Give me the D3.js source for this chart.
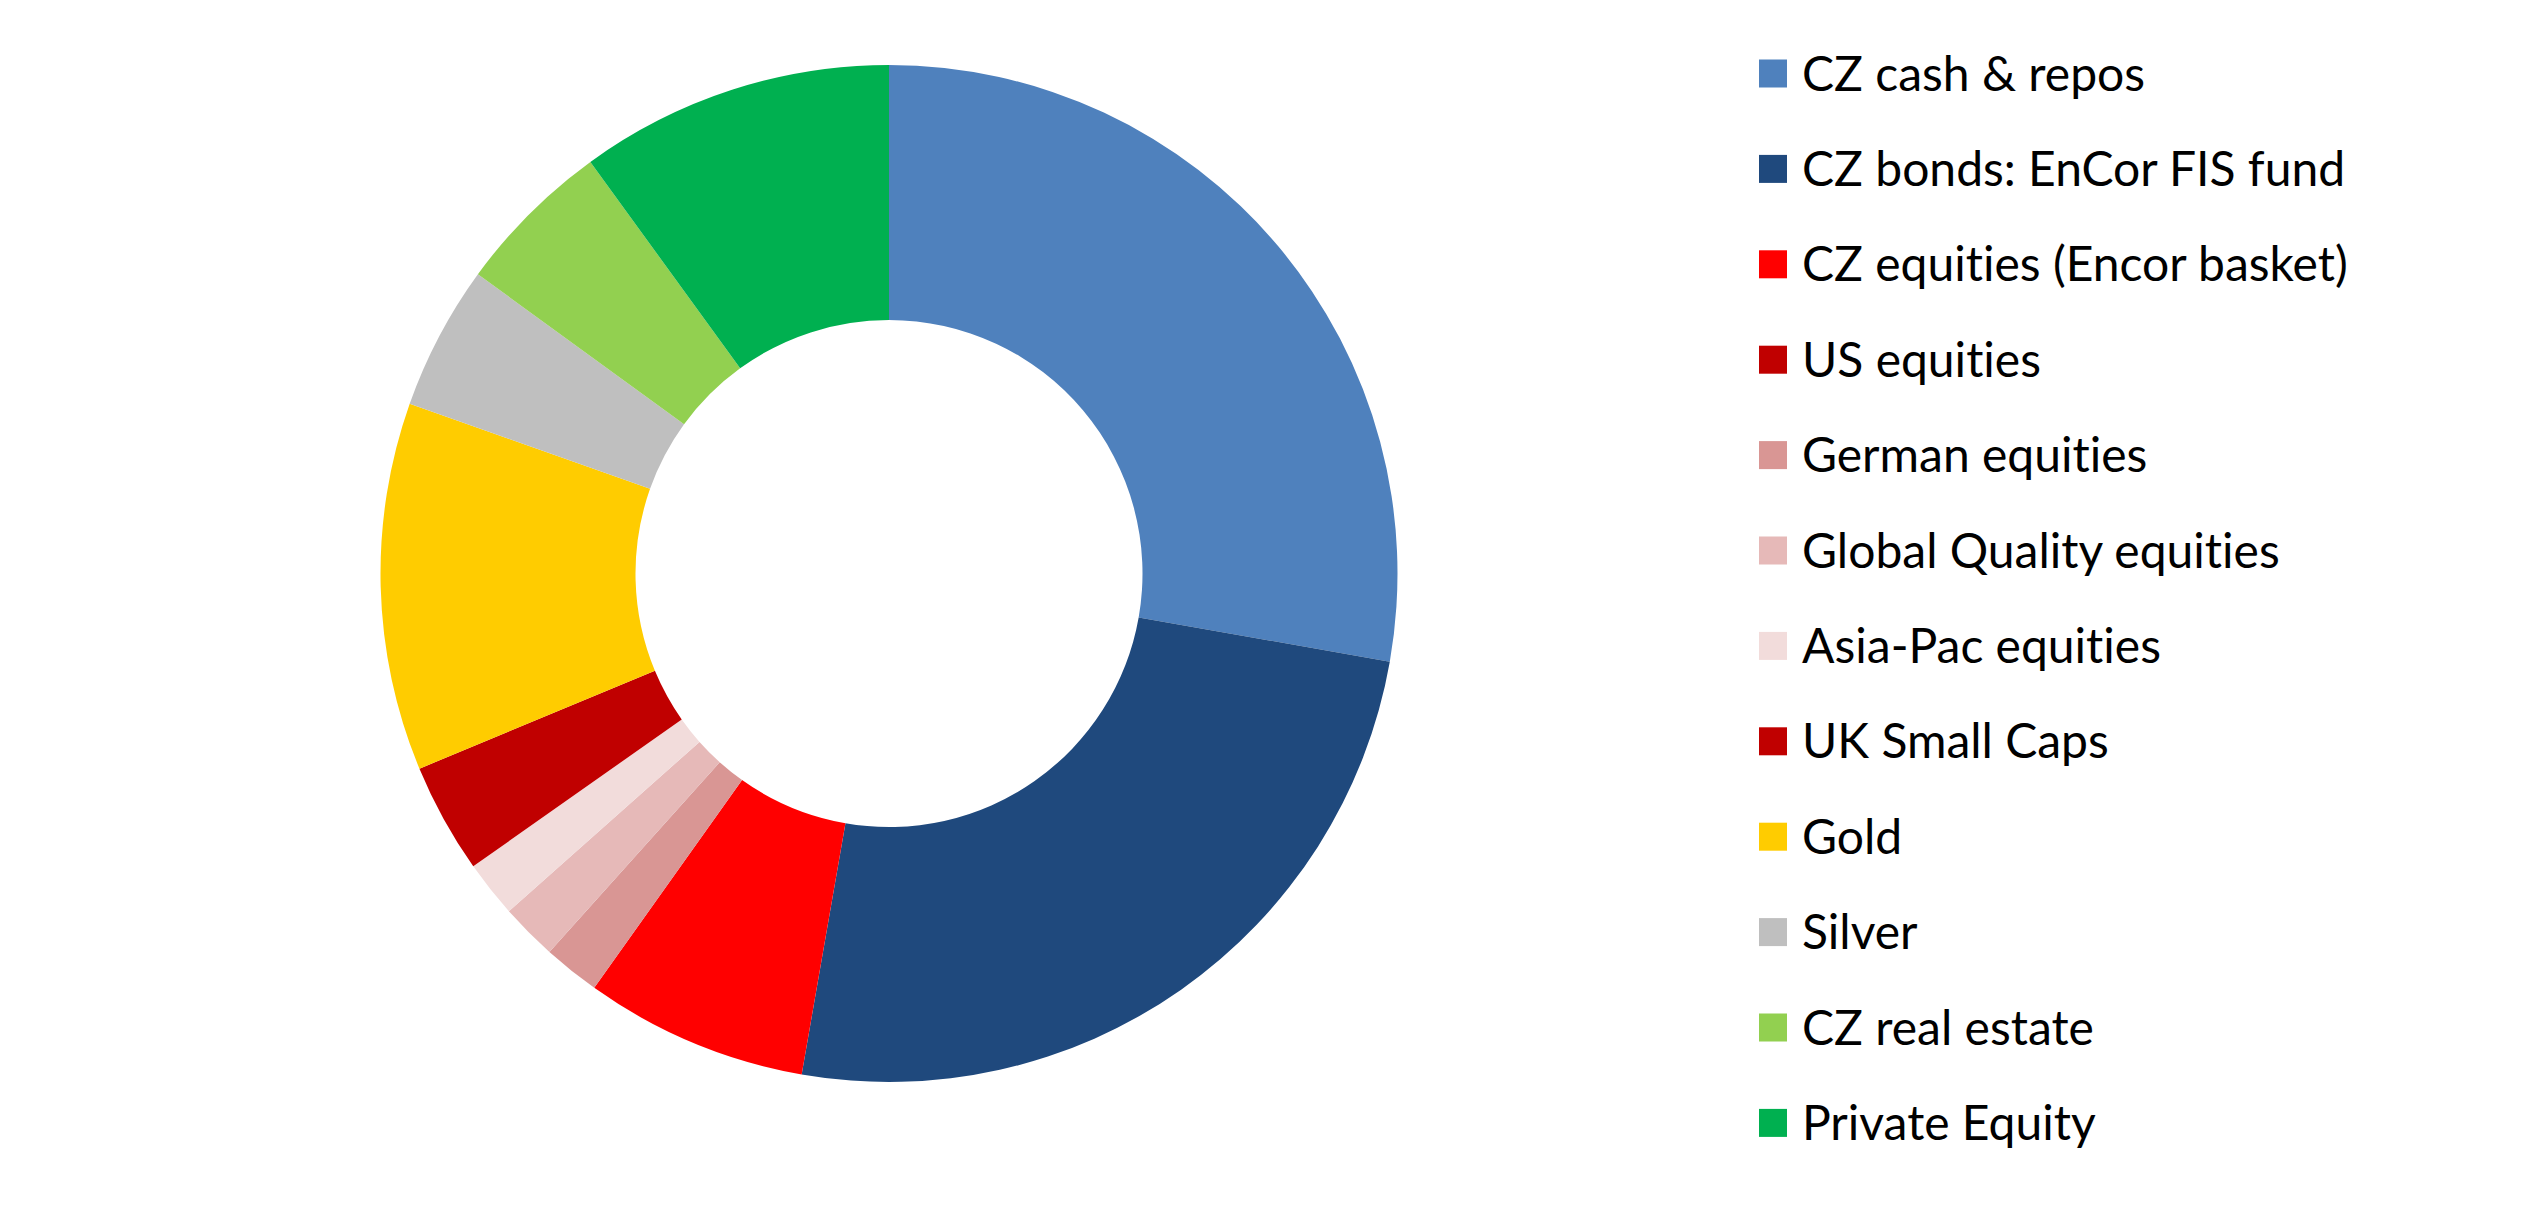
<!DOCTYPE html>
<html>
<head>
<meta charset="utf-8">
<script src="https://cdn.jsdelivr.net/npm/d3@7"></script>
<style>
  html, body { margin: 0; padding: 0; background: #ffffff; }
  svg { display: block; }
  text { font-variant-ligatures: none; font-feature-settings: "liga" 0, "clig" 0; }
</style>
</head>
<body>
<svg id="chart" width="2536" height="1228"></svg>
<script>
const categories = [
  "CZ cash & repos",
  "CZ bonds: EnCor FIS fund",
  "CZ equities (Encor basket)",
  "US equities",
  "German equities",
  "Global Quality equities",
  "Asia-Pac equities",
  "UK Small Caps",
  "Gold",
  "Silver",
  "CZ real estate",
  "Private Equity"
];
const values = [27.8, 25.0, 7.1, 0, 1.8, 1.8, 1.8, 3.5, 11.7, 4.6, 5.0, 10.0];
const colors = [
  "#4F81BD", "#1F497D", "#FF0000", "#C00000", "#D99694", "#E6B9B8",
  "#F2DCDB", "#C00000", "#FFCC00", "#BFBFBF", "#92D050", "#00B050"
];

const svg = d3.select("#chart");
const cx = 889, cy = 573.5, outerR = 508.5, innerR = 253.5;

const data = categories.map((c, i) => ({ name: c, value: values[i], color: colors[i] }));

const pie = d3.pie().value(d => d.value).sort(null);
const arc = d3.arc().innerRadius(innerR).outerRadius(outerR);

svg.append("g")
  .attr("transform", `translate(${cx},${cy})`)
  .selectAll("path")
  .data(pie(data))
  .join("path")
  .attr("d", arc)
  .attr("fill", d => d.data.color);

// Legend
const legendY = d3.scaleLinear().domain([0, categories.length - 1]).range([73.5, 1122.9]);
const lg = svg.append("g");
const items = lg.selectAll("g.item").data(data).join("g")
  .attr("class", "item")
  .attr("transform", (d, i) => `translate(1759,${legendY(i)})`);
items.append("rect")
  .attr("x", 0).attr("y", -14).attr("width", 28).attr("height", 28)
  .attr("fill", d => d.color);
items.append("text")
  .attr("x", 43).attr("y", 17)
  .attr("font-family", "Lato, 'Noto Sans', sans-serif")
  .attr("font-size", 48)
  .attr("fill", "#000")
  .text(d => d.name);
</script>
</body>
</html>
